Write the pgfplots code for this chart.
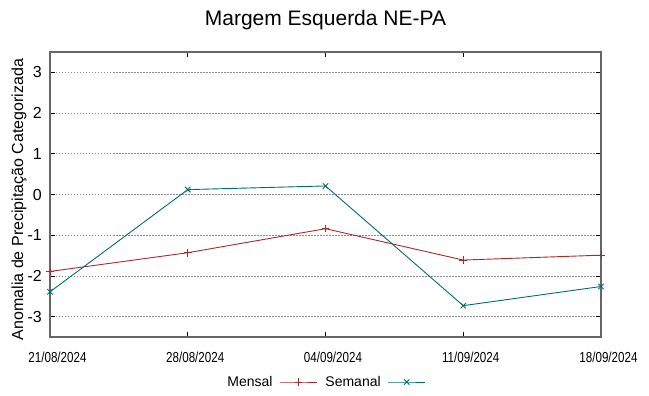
\documentclass[border=0pt]{standalone}
\usepackage{pgfplots}
\pgfplotsset{compat=1.18}
\usepackage{fontspec}
\setmainfont{Liberation Sans}
\newfontfamily\narrowfont[FakeStretch=0.8]{Liberation Sans}
\definecolor{mensal}{RGB}{175,40,40}
\definecolor{semanal}{RGB}{0,110,110}
\begin{document}
\begin{tikzpicture}[x=1pt,y=1pt]
\useasboundingbox (0,0) rectangle (649,396);
\begin{axis}[
  at={(50pt,59pt)}, anchor=south west,
  scale only axis, width=551pt, height=285pt,
  xmin=0, xmax=4, ymin=-3.5, ymax=3.5,
  xtick={0,1,2,3,4},
  xticklabels={21/08/2024,28/08/2024,04/09/2024,11/09/2024,18/09/2024},
  ytick={-3,-2,-1,0,1,2,3},
  /pgf/number format/assume math mode=true,
  tick align=inside,
  major tick length=5pt,
  tick style={black, line width=0.8pt},
  axis line style={draw=black!60, line width=1.5pt},
  ymajorgrids,
  major grid style={black!45, line width=0.7pt, dash pattern=on 1.5pt off 1.5pt},
  xticklabel style={font=\narrowfont\fontsize{14.5}{16}\selectfont, anchor=base, yshift=-25.3pt, xshift=7.5pt},
  yticklabel style={font=\fontsize{16}{18}\selectfont, anchor=east, inner sep=0pt, xshift=-8pt},
  title={Margem Esquerda NE-PA},
  title style={font=\fontsize{21}{24}\selectfont, at={(axis description cs:0.5,1)}, anchor=base, yshift=20.5pt},
  ylabel={Anomalia de Precipitação Categorizada},
  ylabel style={font=\fontsize{16}{18}\selectfont, at={([xshift=-31pt,yshift=-5pt]axis description cs:0,0.5)}, anchor=center, rotate=0},
  legend columns=2,
  legend plot pos=right,
  legend style={draw=none, fill=none, font=\fontsize{14}{16}\selectfont,
    at={([yshift=-45pt]axis description cs:0.5,0)}, anchor=center,
    /tikz/every odd column/.append style={column sep=5pt},
    /tikz/every even column/.append style={column sep=6pt}},
  legend image code/.code={\draw[mark repeat=2,mark phase=2,#1] plot coordinates {(0pt,0pt)(18.5pt,0pt)(37pt,0pt)};},
]
\addplot[mensal, line width=0.9pt, mark=+, mark size=3.8pt] coordinates {
  (0,-1.89) (1,-1.43) (2,-0.84) (3,-1.61) (4,-1.49)
};
\addlegendentry{Mensal}
\addplot[semanal, line width=0.9pt, mark=x, mark size=3.8pt] coordinates {
  (0,-2.39) (1,0.12) (2,0.21) (3,-2.73) (4,-2.26)
};
\addlegendentry{Semanal}
\end{axis}
\end{tikzpicture}
\end{document}
